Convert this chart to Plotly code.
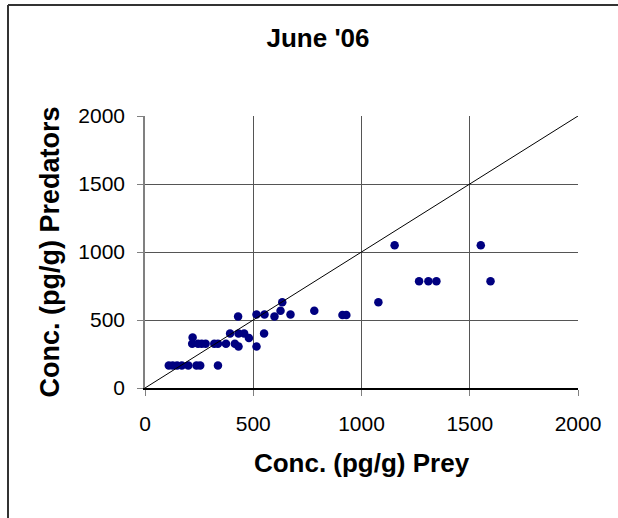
import plotly.graph_objects as go

# Data (Conc. pg/g)
prey = [110, 128, 148, 170, 200, 238, 255, 337,
        218, 245, 262, 280, 320, 337, 374, 415,
        432, 515,
        220, 480,
        393, 432, 458, 550,
        430, 598,
        515, 552, 672, 912, 930,
        626, 782,
        634, 1078,
        1266, 1309, 1346, 1596,
        1153, 1551]
predators = [165, 165, 165, 165, 165, 165, 165, 165,
             325, 325, 325, 325, 325, 325, 325, 325,
             305, 305,
             372, 368,
             400, 400, 400, 400,
             525, 525,
             540, 540, 540, 537, 537,
             568, 568,
             630, 630,
             785, 785, 785, 785,
             1050, 1050]

axis_range = [0, 2000]
tick_vals = [0, 500, 1000, 1500, 2000]
tick_text = ["0", "500", "1000", "1500", "2000"]

title_text = "June '06"
x_title = "Conc. (pg/g) Prey"
y_title = "Conc. (pg/g) Predators"

FONT = "Liberation Sans, Arial, sans-serif"

fig = go.Figure()
fig.add_trace(go.Scatter(
    x=prey, y=predators, mode="markers",
    marker=dict(size=8.5, color="#000080", line=dict(width=0)),
    showlegend=False, hoverinfo="x+y"))
# 1:1 reference line
fig.add_trace(go.Scatter(
    x=axis_range, y=axis_range, mode="lines",
    line=dict(color="black", width=1),
    showlegend=False, hoverinfo="skip"))

W, H = 618, 518
L, R, T, B = 145, 40, 116, 130
pw, ph = W - L - R, H - T - B

def px_x(p):
    return (p - L) / pw

def px_y(p):
    return (H - B - p) / ph

axis_common = dict(
    range=axis_range, tickmode="array", tickvals=tick_vals, ticktext=tick_text,
    showgrid=True, gridcolor="#555555", gridwidth=1,
    zeroline=False, showline=True, ticks="outside", ticklen=6,
    tickcolor="#808080", tickwidth=1,
    tickfont=dict(family=FONT, size=21, color="black"),
    fixedrange=True,
)

fig.update_layout(
    width=W, height=H,
    margin=dict(l=L, r=R, t=T, b=B, pad=0),
    paper_bgcolor="white", plot_bgcolor="white",
    title=dict(text="<b>" + title_text + "</b>", xref="container", yref="container",
               x=318 / W, y=1 - 38 / H, xanchor="center", yanchor="middle",
               font=dict(family=FONT, size=26, color="black")),
    xaxis=dict(**axis_common, linecolor="black", linewidth=1.5,
               ticklabelstandoff=10,
               title=dict(text="<b>" + x_title + "</b>", standoff=20,
                          font=dict(family=FONT, size=26, color="black"))),
    yaxis=dict(**axis_common, linecolor="#808080", linewidth=1.5,
               ticklabelstandoff=8,
               title=dict(text="<b>" + y_title + "</b>", standoff=11,
                          font=dict(family=FONT, size=27, color="black"))),
    shapes=[
        dict(type="line", xref="paper", yref="paper",
             x0=px_x(8), x1=px_x(8), y0=px_y(H + 5), y1=px_y(5),
             line=dict(color="#333333", width=2)),
        dict(type="line", xref="paper", yref="paper",
             x0=px_x(8), x1=px_x(W + 5), y0=px_y(5), y1=px_y(5),
             line=dict(color="#333333", width=2)),
    ],
)

fig.write_html("out.html")
